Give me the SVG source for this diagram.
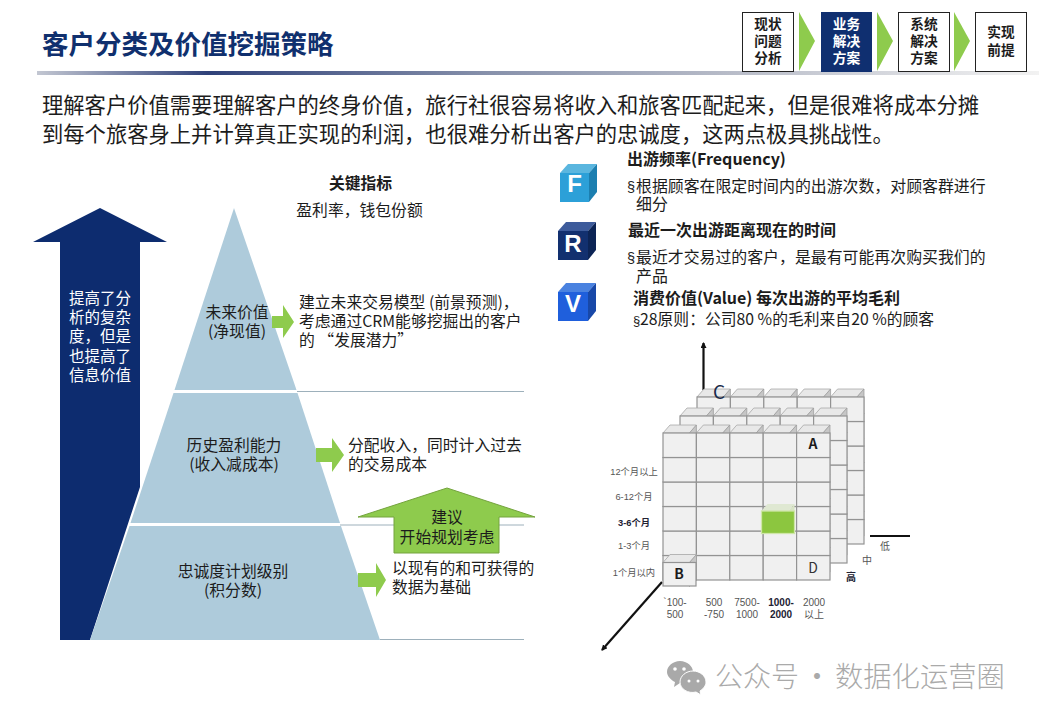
<svg xmlns="http://www.w3.org/2000/svg" xmlns:xlink="http://www.w3.org/1999/xlink" width="1039" height="720" viewBox="0 0 1039 720">
<style>
text{font-family:"Noto Sans CJK SC","Liberation Sans",sans-serif;fill:#1c1c1c}
.b{font-weight:700}
.m{text-anchor:middle}
.t16{font-size:15.8px}
.t15{font-size:15.9px}
.h{font-size:16px;font-weight:700}
.sec{font-size:14.500px;font-family:"Liberation Sans",sans-serif}
.nav{font-size:13.7px;font-weight:700;text-anchor:middle}
.ax{font-size:10px;text-anchor:middle;fill:#555;font-family:"Liberation Sans","Noto Sans CJK SC",sans-serif}
.ay{font-size:9.300px}
.g{fill:#8ecb4d}
.ln{stroke:#9db0bb;stroke-width:1;fill:none}
.axis{stroke:#111;stroke-width:2.200;fill:none}
.f{fill:#f0f0f0;stroke:#939393;stroke-width:1.200}
.tp{fill:#e8e8e8;stroke:#a8a8a8;stroke-width:.8}
.sd{fill:#c6c6c6;stroke:#a0a0a0;stroke-width:.8}
.pyr{fill:#aecbdb}
.ic{font-family:"Liberation Sans",sans-serif;font-weight:700;font-size:24px;text-anchor:middle;fill:#fff}
</style>
<defs>
<linearGradient id="bar" x1="0" x2="1" y1="0" y2="0">
<stop offset="0" stop-color="#c3c7d2"/><stop offset=".17" stop-color="#2f4179"/><stop offset=".45" stop-color="#8791ab"/><stop offset=".7" stop-color="#b9bdc9"/><stop offset="1" stop-color="#f2f2f2"/>
</linearGradient>
<g id="cube"><path class="tp" d="M0 0l7-8h26.4l-7 8z"/><path class="sd" d="M33.4 -8v24.5l-7 8V0z"/><rect class="f" width="33.4" height="24.5"/></g>
<g id="row"><use xlink:href="#cube"/><use xlink:href="#cube" x="33.4"/><use xlink:href="#cube" x="66.8"/><use xlink:href="#cube" x="100.2"/><use xlink:href="#cube" x="133.6"/></g>
<g id="layer"><use xlink:href="#row" y="122.5"/><use xlink:href="#row" y="98"/><use xlink:href="#row" y="73.5"/><use xlink:href="#row" y="49"/><use xlink:href="#row" y="24.5"/><use xlink:href="#row"/></g>
<marker id="ah" markerWidth="8" markerHeight="8" refX="5" refY="3" orient="auto" markerUnits="userSpaceOnUse"><path d="M0 0L6 3L0 6z" fill="#111"/></marker>
</defs>
<rect width="1039" height="720" fill="#fff"/>
<g id="title">
<text x="42" y="54" class="b" font-size="26.5" style="fill:#10306e">客户分类及价值挖掘策略</text>
<rect x="37" y="71" width="1002" height="4" fill="url(#bar)"/>
</g>
<g id="nav">
<g id="nav1"><rect x="742.500" y="12.500" width="51" height="59" fill="#fff" stroke="#222"/><text class="nav" x="768" y="29">现状</text><text class="nav" x="768" y="46">问题</text><text class="nav" x="768" y="63">分析</text></g>
<path class="g" d="M799 12L815 41L799 71z"/>
<g id="nav2"><rect x="821" y="12" width="51" height="60" fill="#0f2f70"/><text class="nav" x="846.500" y="29" style="fill:#fff">业务</text><text class="nav" x="846.500" y="46" style="fill:#fff">解决</text><text class="nav" x="846.500" y="63" style="fill:#fff">方案</text></g>
<path class="g" d="M877 12L893 41L877 71z"/>
<g id="nav3"><rect x="898.500" y="12.500" width="51" height="59" fill="#fff" stroke="#222"/><text class="nav" x="924" y="29">系统</text><text class="nav" x="924" y="46">解决</text><text class="nav" x="924" y="63">方案</text></g>
<path class="g" d="M954 12L970 41L954 71z"/>
<g id="nav4"><rect x="975.500" y="12.500" width="51" height="59" fill="#fff" stroke="#222"/><text class="nav" x="1001" y="37">实现</text><text class="nav" x="1001" y="55">前提</text></g>
</g>
<g id="intro" font-size="21.3">
<text x="42" y="113">理解客户价值需要理解客户的终身价值，旅行社很容易将收入和旅客匹配起来，但是很难将成本分摊</text>
<text x="42" y="142">到每个旅客身上并计算真正实现的利润，也很难分析出客户的忠诚度，这两点极具挑战性。</text>
</g>
<g id="connectors">
<path class="ln" d="M297 391.500H524M340 525H524M380 639.500H524"/>
<path class="axis" d="M703.500 390V343" marker-end="url(#ah)"/>
<path class="axis" d="M870 536H910"/>
<path class="axis" d="M662 582L602 650" marker-end="url(#ah)"/>
</g>
<g id="up-arrow">
<path fill="#0d2c6f" d="M100 208L167 242H140V487L90 640H60V242H33z"/>
<g font-size="15.500" text-anchor="middle">
<text x="100" y="304" style="fill:#fff">提高了分</text><text x="100" y="323" style="fill:#fff">析的复杂</text><text x="100" y="342" style="fill:#fff">度，但是</text><text x="100" y="362" style="fill:#fff">也提高了</text><text x="100" y="381" style="fill:#fff">信息价值</text>
</g>
</g>
<g id="pyramid-top"><path class="pyr" d="M234 208L296.500 390H174.500z"/><text class="m t16" x="237" y="318">未来价值</text><text class="m t16" x="237" y="337">(净现值)</text></g>
<g id="pyramid-mid"><path class="pyr" d="M173.500 393H297.500L340 523H130.500z"/><text class="m t16" x="234" y="451">历史盈利能力</text><text class="m t16" x="234" y="470">(收入减成本)</text></g>
<g id="pyramid-bot"><path class="pyr" d="M129.500 526H341L380 640H90z"/><text class="m t16" x="233" y="577">忠诚度计划级别</text><text class="m t16" x="233" y="596">(积分数)</text></g>
<g id="kpi"><text class="m b t16" x="360.500" y="189">关键指标</text><text class="m t16" x="359.500" y="216">盈利率，钱包份额</text></g>
<g id="note1"><path class="g" d="M272 316H283V305L294 322L283 338V328H272z"/><text class="t16" x="299" y="308">建立未来交易模型 (前景预测)，</text><text class="t16" x="299" y="327">考虑通过CRM能够挖掘出的客户</text><text class="t16" x="299" y="346">的 “发展潜力”</text></g>
<g id="note2"><path class="g" d="M316 448H332V438L344 455L332 472V462H316z"/><text class="t16" x="348" y="451">分配收入，同时计入过去</text><text class="t16" x="348" y="470">的交易成本</text></g>
<g id="note3"><path class="g" d="M358 573H376V563L386 580L376 597V587H358z"/><text class="t16" x="392" y="574">以现有的和可获得的</text><text class="t16" x="392" y="593">数据为基础</text></g>
<g id="advice"><path class="g" stroke="#74a33e" d="M447 488L535 517H499V553H394V517H358z"/><text class="m t16" x="447" y="523">建议</text><text class="m t16" x="447" y="543">开始规划考虑</text></g>
<g id="rfm-f"><path fill="#5ab6df" d="M560 173l8-9h29l-8 9z"/><path fill="#1c7fb0" d="M597 164v28l-8 10v-29z"/><rect x="560" y="173" width="29" height="29" fill="#2ca0d8"/><text x="574.500" y="192" class="ic">F</text>
<text class="h" x="627" y="165">出游频率(Frequency)</text><text class="t15" x="627" y="192"><tspan class="sec">§</tspan><tspan x="636">根据顾客在限定时间内的出游次数，对顾客群进行</tspan></text><text class="t15" x="636" y="210">细分</text></g>
<g id="rfm-r"><path fill="#3d5b9b" d="M558 231l8-9h30l-8 9z"/><path fill="#0c2455" d="M596 222v28l-8 10v-29z"/><rect x="558" y="231" width="30" height="29" fill="#12306f"/><text x="573" y="252" class="ic">R</text>
<text class="h" x="628" y="236">最近一次出游距离现在的时间</text><text class="t15" x="627" y="263"><tspan class="sec">§</tspan><tspan x="636">最近才交易过的客户，是最有可能再次购买我们的</tspan></text><text class="t15" x="636" y="282">产品</text></g>
<g id="rfm-v"><path fill="#4a82e0" d="M558 292l8-9h30l-8 9z"/><path fill="#1848a8" d="M596 283v28l-8 10v-29z"/><rect x="558" y="292" width="30" height="29" fill="#1f5fdc"/><text x="573" y="312" class="ic">V</text>
<text class="h" x="633" y="304">消费价值(Value) 每次出游的平均毛利</text><text class="t16" x="633" y="325"><tspan class="sec" style="font-size:13px">§</tspan><tspan x="640">28原则：公司80 %的毛利来自20 %的顾客</tspan></text></g>
<g id="cube-back"><use xlink:href="#layer" x="697" y="397"/></g>
<g id="cube-mid"><use xlink:href="#layer" x="680" y="416"/></g>
<g id="cube-front"><use xlink:href="#layer" x="663" y="433"/>
<text x="813" y="449" class="m b" font-size="14">A</text><text x="813" y="573" class="m" font-size="14" style="fill:#333">D</text></g>
<g id="cube-green"><path d="M761.500 511l6-7h27l-6 7z" fill="#dfe8d2"/><path d="M794.500 504v22l-6 7V511z" fill="#d8e4c6"/><rect x="761.500" y="511" width="33" height="22.500" fill="#8cc63f" stroke="#cfe6a8" stroke-width="1.300"/></g>
<g id="cube-b"><path class="tp" d="M663 562.500l7-8h26.500l-7 8z"/><path class="sd" d="M696.500 554.500v24l-7 8v-24z"/><rect class="f" x="663" y="562.500" width="33" height="23.500"/><text x="679" y="579" class="m b" font-size="14">B</text></g>
<text id="cube-c" x="719" y="399" class="m" font-size="19" style="fill:#1a2a4a">C</text>
<g id="axis-y"><text class="ax ay" x="634" y="475">12个月以上</text><text class="ax ay" x="634" y="500">6-12个月</text><text class="ax ay b" x="634" y="526" style="fill:#223">3-6个月</text><text class="ax ay" x="634" y="549">1-3个月</text><text class="ax ay" x="634" y="576">1个月以内</text></g>
<g id="axis-x"><text class="ax" x="675" y="606">`100-</text><text class="ax" x="675" y="618">500</text><text class="ax" x="714" y="606">500</text><text class="ax" x="714" y="618">-750</text><text class="ax" x="747" y="606">7500-</text><text class="ax" x="747" y="618">1000</text><text class="ax b" x="781" y="606" style="fill:#223">1000-</text><text class="ax b" x="781" y="618" style="fill:#223">2000</text><text class="ax" x="814" y="606">2000</text><text class="ax" x="814" y="618">以上</text></g>
<g id="axis-z"><text class="ax" x="885" y="550">低</text><text class="ax" x="867" y="564">中</text><text class="ax b" x="851" y="581" style="fill:#223">高</text></g>
<g id="watermark"><path fill="#a9a9a9" d="M680 661c7 0 13 5 13 11s-6 11-13 11l-6 4 1-5c-4-2-8-6-8-10 0-6 6-11 13-11z"/><path fill="#a9a9a9" stroke="#fff" d="M693 671c7 0 13 5 13 11 0 4-3 7-6 9l1 4-5-3c-8 2-16-3-16-10 0-6 6-11 13-11z"/><circle cx="675" cy="669" r="1.800" fill="#fff"/><circle cx="684" cy="669" r="1.800" fill="#fff"/><circle cx="689" cy="681" r="1.500" fill="#fff"/><circle cx="698" cy="681" r="1.500" fill="#fff"/>
<text x="715" y="687" font-size="28" style="fill:#aaa;font-weight:300">公众号</text><text x="817" y="687" font-size="28" class="m" style="fill:#aaa">·</text><text x="835" y="687" font-size="28.300" style="fill:#aaa;font-weight:300">数据化运营圈</text></g>
</svg>
